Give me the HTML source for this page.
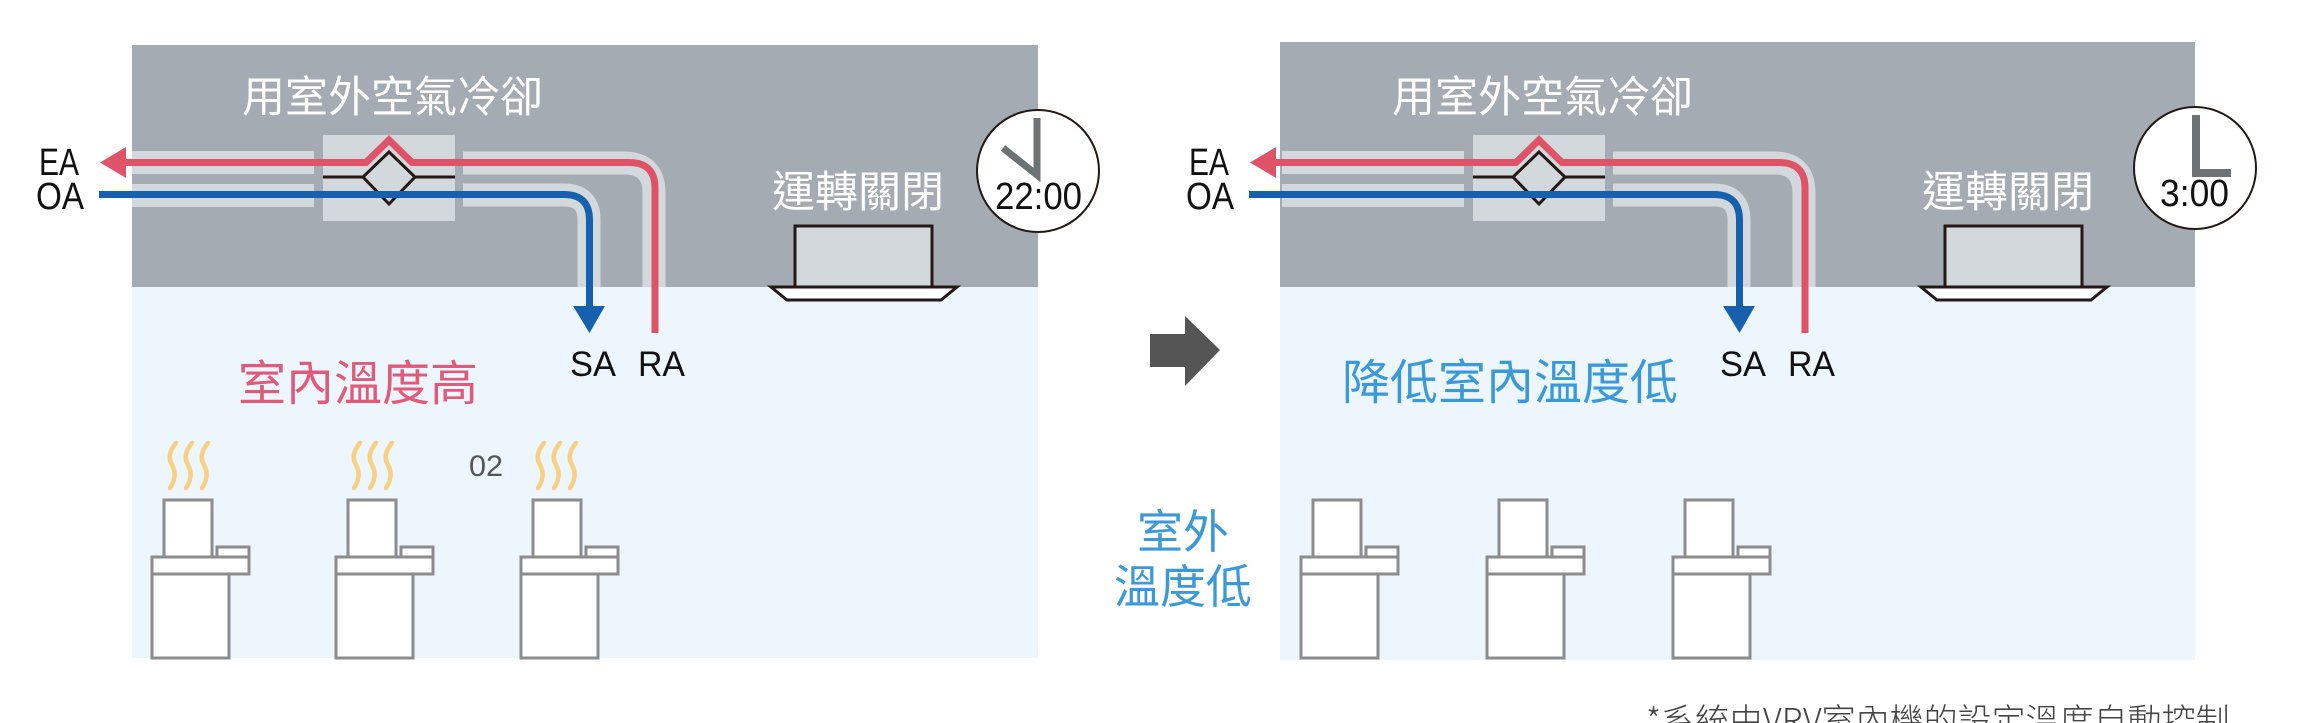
<!DOCTYPE html>
<html><head><meta charset="utf-8"><style>
html,body{margin:0;padding:0;background:#fff;}
svg{display:block;}
text{font-family:"Liberation Sans","Noto Sans CJK TC",sans-serif;}
.cjk{font-family:"Noto Sans CJK TC","Liberation Sans",sans-serif;}
</style></head><body>
<svg width="2315" height="723" viewBox="0 0 2315 723" xmlns="http://www.w3.org/2000/svg">
<defs>
<g id="duct">
  <rect x="323" y="135" width="132" height="86" fill="#d3d8dc"/>
  <rect x="132" y="151" width="182" height="23" fill="#d3d8dc"/>
  <rect x="132" y="184" width="182" height="23" fill="#d3d8dc"/>
  <path d="M463 163 H624 Q654 163 654 193 V287" fill="none" stroke="#d3d8dc" stroke-width="23"/>
  <path d="M463 195 H564 Q589 195 589 220 V287" fill="none" stroke="#d3d8dc" stroke-width="23"/>
  <line x1="323" y1="177" x2="455" y2="177" stroke="#231815" stroke-width="3"/>
  <polygon points="389,152 415,177 389,204 363,177" fill="#d3d8dc" stroke="#231815" stroke-width="3"/>
  <path d="M124 162.5 H366 L389 140 L412 162.5 H629 Q655 162.5 655 188 V333" fill="none" stroke="#df5369" stroke-width="7"/>
  <polygon points="100,162.5 126,147 126,178" fill="#df5369"/>
  <path d="M99 194.5 H564 Q589.5 194.5 589.5 220 V308" fill="none" stroke="#1660ad" stroke-width="7"/>
  <polygon points="573,306 605,306 589.5,333" fill="#1660ad"/>
  <text x="39" y="175" font-size="38" fill="#111" textLength="40" lengthAdjust="spacingAndGlyphs">EA</text>
  <text x="36" y="209" font-size="38" fill="#111" textLength="48" lengthAdjust="spacingAndGlyphs">OA</text>
  <text x="570" y="376" font-size="35" fill="#111" textLength="46" lengthAdjust="spacingAndGlyphs">SA</text>
  <text x="638" y="376" font-size="35" fill="#111" textLength="47" lengthAdjust="spacingAndGlyphs">RA</text>
  <rect x="795" y="226" width="137" height="61" fill="#d3d8dc" stroke="#231815" stroke-width="3"/>
  <polygon points="771,287 957,287 941,300 787,300" fill="#fff" stroke="#231815" stroke-width="3"/>
  <text class="cjk" x="772" y="207" font-size="43" fill="#fff">運轉關閉</text>
  <text class="cjk" x="242" y="112" font-size="43" fill="#fff">用室外空氣冷卻</text>
</g>
<g id="mach" fill="#fff" stroke="#8c8c8c" stroke-width="3">
  <rect x="164" y="500" width="48" height="57"/>
  <rect x="217" y="547" width="32" height="10"/>
  <rect x="152" y="557" width="97" height="17"/>
  <rect x="152" y="574" width="77" height="84"/>
</g>
<g id="steam" fill="none" stroke="#f8d083" stroke-width="4.5" stroke-linecap="round">
  <path d="M176 443 Q166 455 172 465 Q178 476 170 488"/>
  <path d="M192 443 Q182 455 188 465 Q194 476 186 488"/>
  <path d="M208 443 Q198 455 204 465 Q210 476 202 488"/>
</g>
</defs>

<!-- Left panel -->
<rect x="132" y="45" width="906" height="242" fill="#a4abb2"/>
<rect x="132" y="287" width="906" height="371" fill="#eef6fd"/>
<use href="#duct"/>
<circle cx="1038" cy="171" r="61" fill="#fff" stroke="#231815" stroke-width="2"/>
<path d="M1037 118 V175 L1003 148" fill="none" stroke="#6d7275" stroke-width="7"/>
<text x="995" y="209" font-size="38" fill="#111" textLength="87" lengthAdjust="spacingAndGlyphs">22:00</text>
<text class="cjk" x="238" y="400" font-size="48" fill="#e05a7a">室內溫度高</text>
<text x="469" y="476" font-size="30" fill="#555" textLength="34" lengthAdjust="spacingAndGlyphs">02</text>
<use href="#steam"/><use href="#steam" x="184"/><use href="#steam" x="368"/>
<use href="#mach"/><use href="#mach" x="184"/><use href="#mach" x="369"/>

<!-- Middle arrow -->
<polygon points="1150,334 1185,334 1185,316 1220,350 1185,386 1185,367 1150,367" fill="#555"/>

<!-- Right panel -->
<rect x="1280" y="42" width="915" height="245" fill="#a4abb2"/>
<rect x="1280" y="287" width="915" height="373" fill="#eef6fd"/>
<g transform="translate(1150,0)"><use href="#duct"/></g>
<circle cx="2195" cy="168" r="61" fill="#fff" stroke="#231815" stroke-width="2"/>
<path d="M2196 115 V173 H2231" fill="none" stroke="#6d7275" stroke-width="8"/>
<text x="2160" y="206" font-size="38" fill="#111" textLength="69" lengthAdjust="spacingAndGlyphs">3:00</text>
<text class="cjk" x="1342" y="399" font-size="48" fill="#3a9ad9">降低室內溫度低</text>
<text class="cjk" x="1183" y="548" font-size="46" fill="#3a9ad9" text-anchor="middle">室外</text>
<text class="cjk" x="1183" y="603" font-size="46" fill="#3a9ad9" text-anchor="middle">溫度低</text>
<g transform="translate(1149,0)"><use href="#mach"/><use href="#mach" x="186"/><use href="#mach" x="372"/></g>

<text class="cjk" x="1646" y="733" font-size="34" fill="#444" font-weight="300">*系統由VRV室內機的設定溫度自動控制</text>
</svg>
</body></html>
